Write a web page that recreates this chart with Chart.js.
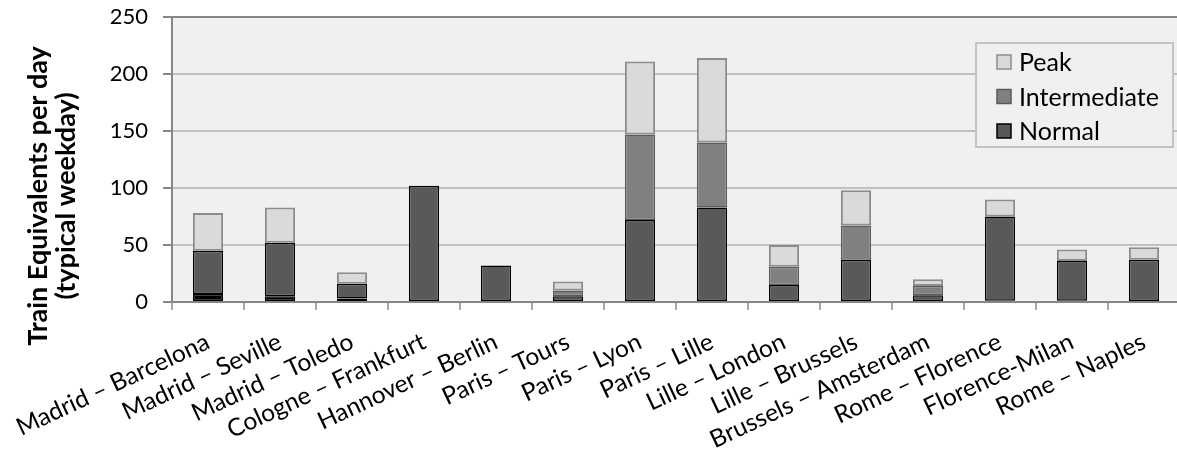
<!DOCTYPE html>
<html>
<head>
<meta charset="utf-8">
<script src="https://cdn.jsdelivr.net/npm/chart.js@4.4.1/dist/chart.umd.min.js"></script>
<style>
  html, body { margin: 0; padding: 0; background: #ffffff; overflow: hidden; }
  #wrap { width: 1184px; height: 450px; }
</style>
</head>
<body>
<div id="wrap"><canvas id="c" width="1184" height="450"></canvas></div>
<script>
// Route categories along the x axis
const categories = [
  'Madrid – Barcelona', 'Madrid – Seville', 'Madrid – Toledo', 'Cologne – Frankfurt',
  'Hannover – Berlin', 'Paris – Tours', 'Paris – Lyon', 'Paris – Lille',
  'Lille – London', 'Lille – Brussels', 'Brussels – Amsterdam', 'Rome – Florence',
  'Florence-Milan', 'Rome – Naples'
];

// Train equivalents per typical weekday, stacked slices
const normal       = [7, 5, 3, 102, 32, 5, 72, 83, 15, 37, 6, 1, 1, 37];
const intermediate = [38, 47, 13, 0, 0, 5, 75, 57, 16, 30, 8, 74, 35, 0];
const peak         = [33, 31, 10, 0, 0, 8, 64, 74, 19, 31, 6, 15, 10, 11];

const seriesNames = ['Normal', 'Intermediate', 'Peak'];
const yTickValues = [0, 50, 100, 150, 200, 250];
const yTitleLines = ['Train Equivalents per day', '(typical weekday)'];

// Routes whose base slice is drawn in black
const blackBaseRoutes = [0, 1, 2, 11, 12];

const FONT = 'Lato, "Open Sans", "DejaVu Sans", sans-serif';
const AXIS_GREY = '#868686';
const GRID_GREY = '#c0c0c0';
const PLOT_BG = '#f0f0f0';

const isBlackBase = (ctx) => blackBaseRoutes.includes(ctx.dataIndex);
const zeroless = (ctx, w) => (ctx.raw ? w : 0);

// Plot area background
const plotBackground = {
  id: 'plotBackground',
  beforeDraw(chart) {
    const { ctx, chartArea: a } = chart;
    ctx.save();
    ctx.fillStyle = PLOT_BG;
    ctx.fillRect(a.left, a.top, a.right - a.left, a.bottom - a.top);
    ctx.restore();
  }
};

// Rotated two-line y axis title
const yTitle = {
  id: 'yTitle',
  afterDraw(chart) {
    const { ctx } = chart;
    ctx.save();
    ctx.font = 'bold 27px ' + FONT;
    ctx.fillStyle = '#000';
    ctx.textAlign = 'center';
    ctx.textBaseline = 'middle';
    const xs = [38, 66];
    yTitleLines.forEach((line, i) => {
      ctx.save();
      ctx.translate(xs[i], 196);
      ctx.rotate(-Math.PI / 2);
      ctx.fillText(line, 0, 0);
      ctx.restore();
    });
    ctx.restore();
  }
};

// Boxed legend inside the plot, top series first
const boxedLegend = {
  id: 'boxedLegend',
  afterDraw(chart) {
    const { ctx } = chart;
    const box = { x: 976, y: 43, w: 197, h: 104 };
    ctx.save();
    ctx.fillStyle = PLOT_BG;
    ctx.fillRect(box.x, box.y, box.w, box.h);
    ctx.strokeStyle = '#c3c3c3';
    ctx.lineWidth = 2;
    ctx.strokeRect(box.x, box.y, box.w, box.h);
    const items = chart.data.datasets.slice().reverse();
    ctx.font = '25px ' + FONT;
    ctx.textBaseline = 'middle';
    ctx.textAlign = 'left';
    items.forEach((ds, i) => {
      const cy = 62 + i * 34.5;
      ctx.fillStyle = ds.legendFill;
      ctx.fillRect(997, cy - 7, 14, 14);
      ctx.strokeStyle = ds.legendStroke;
      ctx.lineWidth = 1.5;
      ctx.strokeRect(997, cy - 7, 14, 14);
      ctx.fillStyle = '#000';
      ctx.fillText(ds.label, 1019, cy + 1);
    });
    ctx.restore();
  }
};

const common = { barPercentage: 0.42, categoryPercentage: 1, borderSkipped: false };

new Chart(document.getElementById('c'), {
  type: 'bar',
  data: {
    labels: categories,
    datasets: [
      {
        label: seriesNames[0], data: normal, ...common,
        backgroundColor: (ctx) => (isBlackBase(ctx) ? '#000000' : '#595959'),
        borderColor: '#000000',
        borderWidth: (ctx) => zeroless(ctx, 1.5),
        legendFill: '#595959', legendStroke: '#000000'
      },
      {
        label: seriesNames[1], data: intermediate, ...common,
        backgroundColor: (ctx) => (isBlackBase(ctx) ? '#595959' : '#808080'),
        borderColor: (ctx) => (isBlackBase(ctx) ? '#000000' : '#5a5a5a'),
        borderWidth: (ctx) => zeroless(ctx, 1.5),
        legendFill: '#808080', legendStroke: '#5a5a5a'
      },
      {
        label: seriesNames[2], data: peak, ...common,
        backgroundColor: '#d9d9d9',
        borderColor: '#8c8c8c',
        borderWidth: (ctx) => zeroless(ctx, 2),
        legendFill: '#d9d9d9', legendStroke: '#8c8c8c'
      }
    ]
  },
  options: {
    responsive: false,
    animation: false,
    devicePixelRatio: 1,
    layout: { padding: { top: 17, right: 4, bottom: 0, left: 0 } },
    plugins: {
      legend: { display: false },
      tooltip: { enabled: false }
    },
    scales: {
      x: {
        stacked: true,
        grid: {
          display: true, drawOnChartArea: false, drawTicks: true,
          tickLength: 8, tickColor: '#a6a6a6', lineWidth: 2, offset: true
        },
        border: { display: true, color: AXIS_GREY, width: 2 },
        ticks: {
          autoSkip: false, minRotation: 25, maxRotation: 25,
          color: '#000', padding: 17,
          font: { family: FONT, size: 24.5 }
        },
        afterFit(scale) {
          scale.height = 148;
          scale.paddingLeft = 0;
          scale.paddingRight = 0;
        }
      },
      y: {
        stacked: true, min: 0, max: 250,
        afterBuildTicks(scale) { scale.ticks = yTickValues.map(v => ({ value: v })); },
        grid: {
          color: (ctx) => (ctx.tick && (ctx.tick.value === 250 || ctx.tick.value === 0) ? AXIS_GREY : GRID_GREY),
          lineWidth: 2, tickLength: 9, tickColor: AXIS_GREY, drawTicks: true
        },
        border: { display: true, color: AXIS_GREY, width: 2 },
        ticks: {
          color: '#000', padding: 15,
          font: { family: FONT, size: 22 }
        },
        afterFit(scale) {
          scale.width = 172;
          scale.paddingTop = 0;
          scale.paddingBottom = 0;
        }
      }
    }
  },
  plugins: [plotBackground, yTitle, boxedLegend]
});
</script>
</body>
</html>
